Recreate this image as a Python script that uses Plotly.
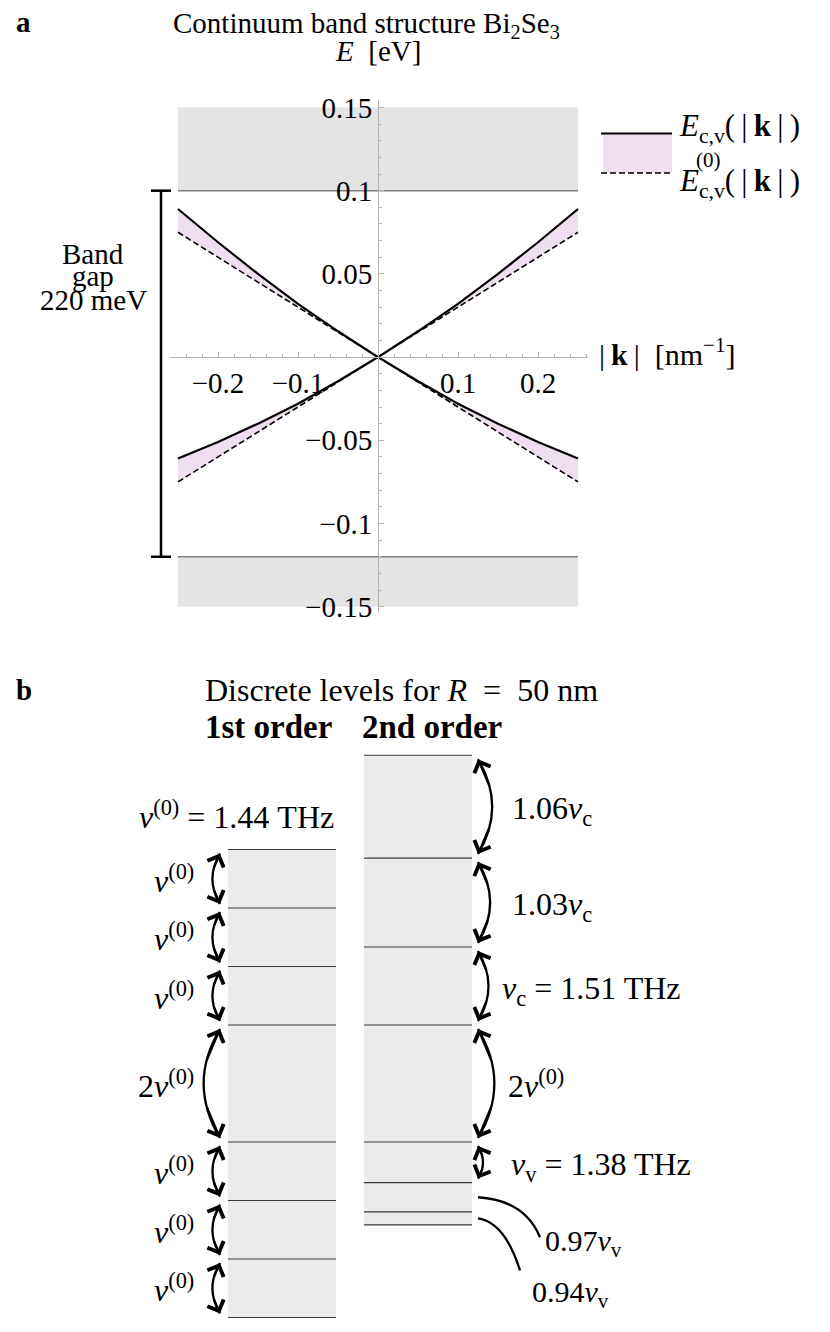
import plotly.graph_objects as go

W, H = 830, 1332
OFF = 8            # the page body adds an 8 px margin; compensate so positions match
FONT = "Liberation Serif, Times New Roman, serif"
FS = 29
FSB = 32

# ---------------- panel a data ----------------
k_vals = [-0.25, -0.2, -0.15, -0.1, -0.05, 0.0, 0.05, 0.1, 0.15, 0.2, 0.25]
E_c = [0.089, 0.069, 0.050, 0.032, 0.0155, 0.0, 0.0155, 0.032, 0.050, 0.069, 0.089]
E_c0 = [0.075, 0.060, 0.045, 0.030, 0.015, 0.0, 0.015, 0.030, 0.045, 0.060, 0.075]
E_v = [-0.061, -0.051, -0.040, -0.028, -0.0145, 0.0, -0.0145, -0.028, -0.040, -0.051, -0.061]
E_v0 = [-0.075, -0.060, -0.045, -0.030, -0.015, 0.0, -0.015, -0.030, -0.045, -0.060, -0.075]
cond_edge = 0.1
val_edge = -0.12
E_lim = [-0.15, 0.15]
k_lim = [-0.25, 0.25]
x_tickvals = [-0.2, -0.1, 0.1, 0.2]
x_ticktext = ["\u22120.2", "\u22120.1", "0.1", "0.2"]
y_tickvals = [-0.15, -0.1, -0.05, 0.05, 0.1, 0.15]
y_ticktext = ["\u22120.15", "\u22120.1", "\u22120.05", "0.05", "0.1", "0.15"]

# ---------------- panel b data ----------------
order_names = ["1st order", "2nd order"]
levels_1st = [5.76, 4.32, 2.88, 1.44, -1.44, -2.88, -4.32, -5.76]
levels_2nd = [8.08, 5.55, 3.36, 1.44, -1.44, -2.44, -3.16, -3.48]
labels_1st = ["<i>ν</i><sup>(0)</sup>", "<i>ν</i><sup>(0)</sup>", "<i>ν</i><sup>(0)</sup>",
              "2<i>ν</i><sup>(0)</sup>",
              "<i>ν</i><sup>(0)</sup>", "<i>ν</i><sup>(0)</sup>", "<i>ν</i><sup>(0)</sup>"]
labels_2nd = ["1.06<i>ν</i><sub>c</sub>", "1.03<i>ν</i><sub>c</sub>",
              "<i>ν</i><sub>c</sub> = 1.51 THz", "2<i>ν</i><sup>(0)</sup>",
              "<i>ν</i><sub>v</sub> = 1.38 THz", "0.97<i>ν</i><sub>v</sub>",
              "0.94<i>ν</i><sub>v</sub>"]

GRAY_BAND = "#e4e4e4"
GRAY_COL = "#ebebeb"
PINK = "rgba(239,222,239,1)"
AXIS_GRAY = "#b4b4b4"
TS = "\u2009"  # thin space


def px(x):
    return (x - OFF) / W


def py(y):
    return 1 - (y - OFF) / H


def tfont(size=FS):
    return dict(family=FONT, size=size, color="black")


fig = go.Figure()

# ---------- panel a traces ----------
fig.add_trace(go.Scatter(x=k_vals, y=E_c0, mode="lines",
                         line=dict(color="black", width=1.6, dash="6px,3px"),
                         xaxis="x", yaxis="y", showlegend=False, hoverinfo="skip"))
fig.add_trace(go.Scatter(x=k_vals, y=E_c, mode="lines", fill="tonexty", fillcolor=PINK,
                         line=dict(color="black", width=2.2),
                         xaxis="x", yaxis="y", showlegend=False, hoverinfo="skip"))
fig.add_trace(go.Scatter(x=k_vals, y=E_v0, mode="lines",
                         line=dict(color="black", width=1.6, dash="6px,3px"),
                         xaxis="x", yaxis="y", showlegend=False, hoverinfo="skip"))
fig.add_trace(go.Scatter(x=k_vals, y=E_v, mode="lines", fill="tonexty", fillcolor=PINK,
                         line=dict(color="black", width=2.2),
                         xaxis="x", yaxis="y", showlegend=False, hoverinfo="skip"))

shapes = []
annots = []

# gray continuum regions and band edges
shapes.append(dict(type="rect", xref="x", yref="y", x0=k_lim[0], x1=k_lim[1],
                   y0=cond_edge, y1=E_lim[1], fillcolor=GRAY_BAND, line_width=0, layer="below"))
shapes.append(dict(type="rect", xref="x", yref="y", x0=k_lim[0], x1=k_lim[1],
                   y0=E_lim[0], y1=val_edge, fillcolor=GRAY_BAND, line_width=0, layer="below"))
for e in (cond_edge, val_edge):
    shapes.append(dict(type="line", xref="x", yref="y", x0=k_lim[0], x1=k_lim[1],
                       y0=e, y1=e, line=dict(color="#7f7f7f", width=1.6), layer="below"))

# band gap bracket
shapes.append(dict(type="line", xref="paper", yref="y", x0=px(161), x1=px(161),
                   y0=cond_edge, y1=val_edge, line=dict(color="black", width=2.5)))
for e in (cond_edge, val_edge):
    shapes.append(dict(type="line", xref="paper", yref="y", x0=px(151), x1=px(171),
                       y0=e, y1=e, line=dict(color="black", width=2.5)))
gap_meV = round((cond_edge - val_edge) * 1000)
for txt, yy in (("Band", 254), ("gap", 276), (f"{gap_meV} meV", 300)):
    annots.append(dict(xref="paper", yref="paper", x=px(93), y=py(yy), text=txt,
                       showarrow=False, xanchor="center", yanchor="middle",
                       font=tfont()))

# titles panel a
annots.append(dict(xref="paper", yref="paper", x=px(14), y=py(22), text="<b>a</b>",
                   showarrow=False, xanchor="left", yanchor="middle", font=tfont()))
annots.append(dict(xref="paper", yref="paper", x=px(366), y=py(25),
                   text="Continuum band structure Bi<sub>2</sub>Se<sub>3</sub>",
                   showarrow=False, xanchor="center", yanchor="middle", font=tfont()))
annots.append(dict(xref="paper", yref="paper", x=px(378), y=py(51),
                   text="<i>E</i>  [eV]", showarrow=False, xanchor="center", yanchor="middle",
                   font=tfont()))
annots.append(dict(xref="paper", yref="paper", x=px(597), y=py(352),
                   text=f"|{TS}<b>k</b>{TS}|  [nm<sup>\u22121</sup>]", showarrow=False,
                   xanchor="left", yanchor="middle", font=tfont(30)))

# legend (hand-built)
shapes.append(dict(type="rect", xref="paper", yref="paper", x0=px(603), x1=px(672),
                   y0=py(134), y1=py(173), fillcolor=PINK, line_width=0))
shapes.append(dict(type="line", xref="paper", yref="paper", x0=px(601), x1=px(672),
                   y0=py(133.5), y1=py(133.5), line=dict(color="black", width=2.2)))
shapes.append(dict(type="line", xref="paper", yref="paper", x0=px(601), x1=px(672),
                   y0=py(173), y1=py(173), line=dict(color="black", width=1.6, dash="6px,3px")))
leg_txt = f"<i>E</i><sub>c,v</sub>({TS}|{TS}<b>k</b>{TS}|{TS})"
annots.append(dict(xref="paper", yref="paper", x=px(677), y=py(128),
                   text=leg_txt, showarrow=False,
                   xanchor="left", yanchor="middle", font=tfont(31)))
annots.append(dict(xref="paper", yref="paper", x=px(677), y=py(183),
                   text=leg_txt, showarrow=False,
                   xanchor="left", yanchor="middle", font=tfont(31)))
annots.append(dict(xref="paper", yref="paper", x=px(694), y=py(160),
                   text="(0)", showarrow=False, xanchor="left", yanchor="middle",
                   font=tfont(21)))

# ---------- panel b ----------
X2_C0, X2_S = 282.0, 136.0         # page pixel of column 0 centre, pixels per column unit
Y2_0, Y2_S = 1083.5, 40.625        # page pixel of mid-gap, pixels per THz unit
x2_range = [(OFF - X2_C0) / X2_S, (W + OFF - X2_C0) / X2_S]
y2_dom_top_px = 740
y2_range = [(Y2_0 - (H + OFF)) / Y2_S, (Y2_0 - y2_dom_top_px) / Y2_S]
half_w = 54 / X2_S

for ci, levels in enumerate((levels_1st, levels_2nd)):
    shapes.append(dict(type="rect", xref="x2", yref="y2", x0=ci - half_w, x1=ci + half_w,
                       y0=min(levels), y1=max(levels), fillcolor=GRAY_COL, line_width=0,
                       layer="below"))
    for lv in levels:
        shapes.append(dict(type="line", xref="x2", yref="y2", x0=ci - half_w, x1=ci + half_w,
                           y0=lv, y1=lv, line=dict(color="#3a3a3a", width=1.2)))


def bez(p0, p1, p2, t):
    return ((1 - t) ** 2 * p0[0] + 2 * t * (1 - t) * p1[0] + t ** 2 * p2[0],
            (1 - t) ** 2 * p0[1] + 2 * t * (1 - t) * p1[1] + t ** 2 * p2[1])


def arc_arrow(x_tip, y_hi, y_lo, direction):
    gap = 4 / Y2_S
    y0, y1 = y_hi - gap, y_lo + gap
    h_px = (y0 - y1) * Y2_S
    bulge_px = max(5.0, min(18.0, 0.15 * h_px))
    xb = x_tip + direction * bulge_px / X2_S
    xc = 2 * xb - x_tip
    p0, p1, p2 = (x_tip, y0), (xc, (y0 + y1) / 2), (x_tip, y1)
    shapes.append(dict(type="path", xref="x2", yref="y2",
                       path=f"M {p0[0]},{p0[1]} Q {p1[0]},{p1[1]} {p2[0]},{p2[1]}",
                       line=dict(color="black", width=2.3)))
    for tip, t in ((p0, 0.3), (p2, 0.7)):
        tail = bez(p0, p1, p2, t)
        annots.append(dict(x=tip[0], y=tip[1], xref="x2", yref="y2",
                           ax=tail[0], ay=tail[1], axref="x2", ayref="y2",
                           text="", showarrow=True, arrowhead=4, arrowsize=1.7,
                           arrowwidth=2, arrowcolor="black", standoff=0))


# 1st order arrows (left side)
x_tip1 = (220 - X2_C0) / X2_S
for i in range(len(levels_1st) - 1):
    hi, lo = levels_1st[i], levels_1st[i + 1]
    arc_arrow(x_tip1, hi, lo, -1)
    annots.append(dict(x=(196 - X2_C0) / X2_S, y=(hi + lo) / 2, xref="x2", yref="y2",
                       text=labels_1st[i], showarrow=False, xanchor="right", yanchor="middle",
                       font=tfont(FSB)))

# 2nd order arrows (right side)
x_tip2 = (478 - X2_C0) / X2_S
lab_x2 = [510, 510, 500, 506, 509]
for i in range(5):
    hi, lo = levels_2nd[i], levels_2nd[i + 1]
    arc_arrow(x_tip2, hi, lo, +1)
    annots.append(dict(x=(lab_x2[i] - X2_C0) / X2_S, y=(hi + lo) / 2, xref="x2", yref="y2",
                       text=labels_2nd[i], showarrow=False, xanchor="left", yanchor="middle",
                       yshift=-4 if "sub" in labels_2nd[i] else 0,
                       font=tfont(FSB)))

# leader lines for the two smallest valence spacings
leaders = [(62, 40, 47, 3), (42, 52, 27, 4)]   # end dx, end dy, ctrl dx, ctrl dy (px)
leader_lab = [(543, 1243), (530, 1294)]
for j, i in enumerate((5, 6)):
    hi, lo = levels_2nd[i], levels_2nd[i + 1]
    ym = (hi + lo) / 2
    ex, ey, cx, cy = leaders[j]
    p0 = (x_tip2, ym)
    p1 = (x_tip2 + cx / X2_S, ym - cy / Y2_S)
    p2 = (x_tip2 + ex / X2_S, ym - ey / Y2_S)
    shapes.append(dict(type="path", xref="x2", yref="y2",
                       path=f"M {p0[0]},{p0[1]} Q {p1[0]},{p1[1]} {p2[0]},{p2[1]}",
                       line=dict(color="black", width=2.3)))
    annots.append(dict(x=px(leader_lab[j][0]), y=py(leader_lab[j][1]), xref="paper", yref="paper",
                       text=labels_2nd[i], showarrow=False, xanchor="left", yanchor="middle",
                       font=tfont(30)))

# panel b headings
annots.append(dict(xref="paper", yref="paper", x=px(14), y=py(690), text="<b>b</b>",
                   showarrow=False, xanchor="left", yanchor="middle", font=tfont()))
annots.append(dict(xref="paper", yref="paper", x=px(401), y=py(690),
                   text="Discrete levels for <i>R</i>  =  50 nm", showarrow=False,
                   xanchor="center", yanchor="middle", font=tfont(32)))
for ci, name in enumerate(order_names):
    annots.append(dict(xref="x2", yref="paper", x=ci - 0.1 + 0.2 * ci, y=py(727),
                       text=f"<b>{name}</b>",
                       showarrow=False, xanchor="center", yanchor="middle", font=tfont(33)))
annots.append(dict(xref="paper", yref="paper", x=px(336), y=py(815),
                   text="<i>ν</i><sup>(0)</sup> = 1.44 THz", showarrow=False,
                   xanchor="right", yanchor="middle", font=tfont(FSB)))

axis_font = tfont()
fig.update_layout(
    width=W, height=H, margin=dict(l=0, r=0, t=0, b=0, autoexpand=False),
    paper_bgcolor="white", plot_bgcolor="rgba(0,0,0,0)",
    showlegend=False,
    xaxis=dict(domain=[px(170), px(588)], range=[-0.26, 0.2625], anchor="free",
               position=py(357.1), showline=True, linecolor=AXIS_GRAY, linewidth=1,
               showgrid=False, zeroline=False, ticks="inside", ticklen=5, tickcolor=AXIS_GRAY,
               tickmode="array", tickvals=x_tickvals, ticktext=x_ticktext, tickfont=axis_font,
               minor=dict(ticks="inside", ticklen=3, tickcolor=AXIS_GRAY, tickmode="linear",
                          tick0=0, dtick=0.02, showgrid=False),
               automargin=False, fixedrange=True),
    yaxis=dict(domain=[py(612), py(100)], range=[-0.1532, 0.1545], anchor="free",
               position=px(378), showline=True, linecolor=AXIS_GRAY, linewidth=1,
               showgrid=False, zeroline=False, ticks="inside", ticklen=5, tickcolor=AXIS_GRAY,
               tickmode="array", tickvals=y_tickvals, ticktext=y_ticktext, tickfont=axis_font,
               minor=dict(ticks="inside", ticklen=3, tickcolor=AXIS_GRAY, tickmode="linear",
                          tick0=0, dtick=0.01, showgrid=False),
               automargin=False, fixedrange=True),
    xaxis2=dict(domain=[0, 1], range=x2_range, visible=False, anchor="y2",
                automargin=False, fixedrange=True),
    yaxis2=dict(domain=[0, py(y2_dom_top_px)], range=y2_range, visible=False, anchor="x2",
                automargin=False, fixedrange=True),
    shapes=shapes,
    annotations=annots,
)

fig.write_html("out.html")
